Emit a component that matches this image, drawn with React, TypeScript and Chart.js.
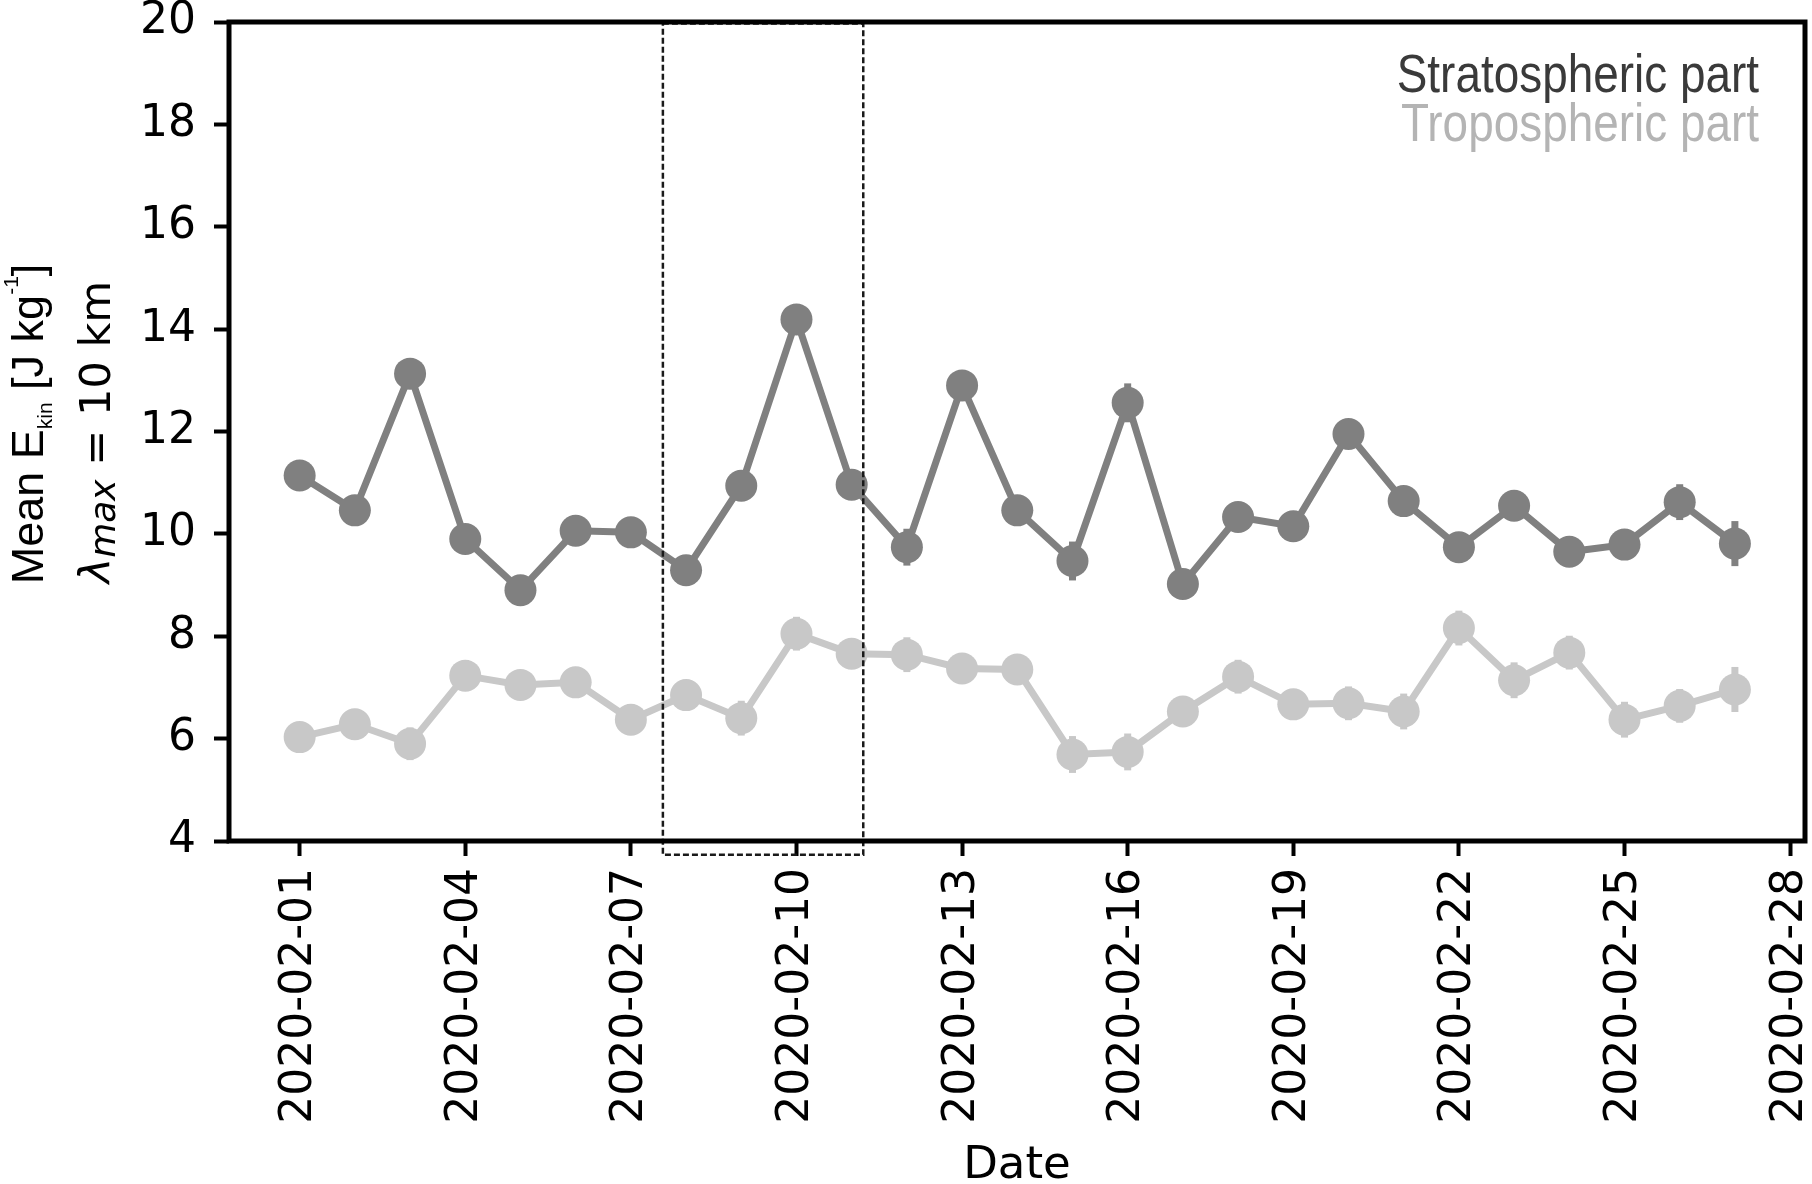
import React, { useEffect, useRef } from "react";
import { Chart, registerables } from "chart.js";

Chart.register(...registerables);

// ---------- data ----------
const dates = [
  "2020-02-01", "2020-02-02", "2020-02-03", "2020-02-04", "2020-02-05", "2020-02-06", "2020-02-07",
  "2020-02-08", "2020-02-09", "2020-02-10", "2020-02-11", "2020-02-12", "2020-02-13", "2020-02-14",
  "2020-02-15", "2020-02-16", "2020-02-17", "2020-02-18", "2020-02-19", "2020-02-20", "2020-02-21",
  "2020-02-22", "2020-02-23", "2020-02-24", "2020-02-25", "2020-02-26", "2020-02-27",
];
const stratValues = [
  11.14, 10.46, 13.13, 9.9, 8.9, 10.06, 10.03, 9.29, 10.94, 14.19, 10.96, 9.74, 12.9, 10.46,
  9.47, 12.56, 9.02, 10.33, 10.15, 11.95, 10.64, 9.74, 10.55, 9.65, 9.79, 10.62, 9.81,
];
const stratErrors = [
  0.2, 0.2, 0.2, 0.2, 0.2, 0.2, 0.2, 0.2, 0.2, 0.2, 0.2, 0.36, 0.2, 0.2,
  0.38, 0.38, 0.2, 0.2, 0.2, 0.2, 0.2, 0.25, 0.2, 0.2, 0.2, 0.35, 0.44,
];
const tropValues = [
  6.03, 6.28, 5.9, 7.23, 7.05, 7.1, 6.37, 6.85, 6.4, 8.05, 7.66, 7.64, 7.37, 7.35,
  5.69, 5.74, 6.53, 7.21, 6.67, 6.69, 6.53, 8.16, 7.14, 7.68, 6.37, 6.64, 6.96,
];
const tropErrors = [
  0.2, 0.3, 0.32, 0.3, 0.25, 0.3, 0.3, 0.3, 0.34, 0.33, 0.25, 0.34, 0.3, 0.3,
  0.36, 0.36, 0.3, 0.33, 0.3, 0.33, 0.35, 0.34, 0.35, 0.33, 0.35, 0.33, 0.44,
];
const tickDays = [0, 3, 6, 9, 12, 15, 18, 21, 24, 27];
const tickLabels = [
  "2020-02-01", "2020-02-04", "2020-02-07", "2020-02-10", "2020-02-13",
  "2020-02-16", "2020-02-19", "2020-02-22", "2020-02-25", "2020-02-28",
];
const yTicks = [4, 6, 8, 10, 12, 14, 16, 18, 20];
const xRange = [-1.28, 27.27];
const yRange = [4, 20];
const boxDays = [6.58, 10.21];
const boxValues = [3.73, 19.97];
const seriesNames = ["Stratospheric part", "Tropospheric part"];

// ---------- styles ----------
const STRAT_COLOR = "#808080";
const TROP_COLOR = "#c8c8c8";
const W = 1812;
const H = 1184;
const AREA_RIGHT = 1805;

function drawRich(
  ctx: CanvasRenderingContext2D,
  parts: { t: string; font: string; dy: number }[],
  cx: number,
  baseY: number
) {
  let total = 0;
  for (const p of parts) {
    ctx.font = p.font;
    total += ctx.measureText(p.t).width;
  }
  let x = cx - total / 2;
  for (const p of parts) {
    ctx.font = p.font;
    ctx.fillText(p.t, x, baseY + p.dy);
    x += ctx.measureText(p.t).width;
  }
}

const decorPlugin = {
  id: "decor",
  afterLayout(chart: any) {
    const xs = chart.scales.x;
    const a = chart.chartArea;
    if (Math.abs(a.right - AREA_RIGHT) > 0.5) {
      a.right = AREA_RIGHT;
      a.width = AREA_RIGHT - a.left;
      xs.right = AREA_RIGHT;
      xs.width = AREA_RIGHT - xs.left;
      if (xs.configure) xs.configure();
      const ys = chart.scales.y;
      if (ys && ys.configure) ys.configure();
    }
  },
  beforeDatasetsDraw(chart: any) {
    const ctx = chart.ctx as CanvasRenderingContext2D;
    const xs = chart.scales.x;
    const ys = chart.scales.y;
    const drawErr = (vals: number[], errs: number[], color: string) => {
      ctx.save();
      ctx.strokeStyle = color;
      ctx.lineWidth = 7;
      ctx.lineCap = "butt";
      vals.forEach((v, i) => {
        const px = xs.getPixelForValue(i);
        ctx.beginPath();
        ctx.moveTo(px, ys.getPixelForValue(v - errs[i]));
        ctx.lineTo(px, ys.getPixelForValue(v + errs[i]));
        ctx.stroke();
      });
      ctx.restore();
    };
    drawErr(tropValues, tropErrors, TROP_COLOR);
    drawErr(stratValues, stratErrors, STRAT_COLOR);
  },
  afterDatasetsDraw(chart: any) {
    const ctx = chart.ctx as CanvasRenderingContext2D;
    const xs = chart.scales.x;
    const ys = chart.scales.y;
    const a = chart.chartArea;

    // dashed highlight box
    ctx.save();
    ctx.strokeStyle = "#1a1a1a";
    ctx.lineWidth = 2.5;
    ctx.setLineDash([6, 3]);
    const x0 = xs.getPixelForValue(boxDays[0]);
    const x1 = xs.getPixelForValue(boxDays[1]);
    const y0 = ys.getPixelForValue(boxValues[0]);
    const y1 = ys.getPixelForValue(boxValues[1]);
    ctx.strokeRect(x0, y1, x1 - x0, y0 - y1);
    ctx.restore();

    // frame
    ctx.save();
    ctx.strokeStyle = "#000";
    ctx.lineWidth = 5;
    ctx.strokeRect(a.left, a.top, a.right - a.left, a.bottom - a.top);
    ctx.restore();

    // legend (text only, condensed)
    ctx.save();
    ctx.textAlign = "right";
    ctx.textBaseline = "alphabetic";
    const sx = 0.85;
    ctx.scale(sx, 1);
    ctx.font = '54px "Liberation Sans", Arial, sans-serif';
    ctx.fillStyle = "#3a3a3a";
    ctx.fillText(seriesNames[0], 1759 / sx, 92);
    ctx.fillStyle = "#b4b4b4";
    ctx.fillText(seriesNames[1], 1759 / sx, 141);
    ctx.restore();

    // x title
    ctx.save();
    ctx.fillStyle = "#000";
    ctx.textAlign = "center";
    ctx.textBaseline = "alphabetic";
    ctx.font = '45px "DejaVu Sans"';
    ctx.fillText("Date", (a.left + a.right) / 2, 1178);
    ctx.restore();

    // y title (two rotated lines)
    ctx.save();
    ctx.fillStyle = "#000";
    ctx.textAlign = "left";
    ctx.textBaseline = "alphabetic";
    ctx.rotate(-Math.PI / 2);
    const f1 = '45px "Liberation Sans", Arial, sans-serif';
    const f1s = '21px "Liberation Sans", Arial, sans-serif';
    drawRich(
      ctx,
      [
        { t: "Mean E", font: f1, dy: 0 },
        { t: "kin", font: f1s, dy: 9 },
        { t: " [J kg", font: f1, dy: 0 },
        { t: "-1", font: f1s, dy: -25 },
        { t: "]", font: f1, dy: 0 },
      ],
      -424,
      43
    );
    const f2 = '43px "DejaVu Sans"';
    const f2i = 'italic 43px "DejaVu Sans"';
    const f2s = 'italic 36px "DejaVu Sans"';
    drawRich(
      ctx,
      [
        { t: "\u03bb", font: f2i, dy: 0 },
        { t: "max", font: f2s, dy: 5 },
        { t: " = 10 km", font: f2, dy: 0 },
      ],
      -432,
      110
    );
    ctx.restore();
  },
};

export default function App() {
  const ref = useRef<HTMLCanvasElement | null>(null);

  useEffect(() => {
    if (!ref.current) return;
    const chart = new Chart(ref.current, {
      type: "line",
      data: {
        datasets: [
          {
            label: seriesNames[0],
            data: stratValues.map((v, i) => ({ x: i, y: v })),
            borderColor: STRAT_COLOR,
            backgroundColor: STRAT_COLOR,
            borderWidth: 7,
            pointRadius: 16,
            pointBorderWidth: 0,
            pointBackgroundColor: STRAT_COLOR,
            tension: 0,
          },
          {
            label: seriesNames[1],
            data: tropValues.map((v, i) => ({ x: i, y: v })),
            borderColor: TROP_COLOR,
            backgroundColor: TROP_COLOR,
            borderWidth: 7,
            pointRadius: 16,
            pointBorderWidth: 0,
            pointBackgroundColor: TROP_COLOR,
            tension: 0,
          },
        ],
      },
      options: {
        animation: false,
        responsive: false,
        devicePixelRatio: 1,
        layout: { padding: { top: 22, right: 7, left: 0, bottom: 0 } },
        plugins: {
          legend: { display: false },
          tooltip: { enabled: false },
        },
        scales: {
          x: {
            type: "linear",
            min: xRange[0],
            max: xRange[1],
            afterBuildTicks: (s: any) => {
              s.ticks = tickDays.map((v) => ({ value: v }));
            },
            afterFit: (s: any) => {
              s.height = H - 841;
              s.paddingLeft = 0;
              s.paddingRight = 0;
            },
            ticks: {
              autoSkip: false,
              minRotation: 90,
              maxRotation: 90,
              padding: 12,
              color: "#000",
              font: { family: "DejaVu Sans", size: 44 },
              callback: (v: any) => {
                const i = tickDays.indexOf(Number(v));
                return i >= 0 ? tickLabels[i] : "";
              },
            },
            grid: {
              display: true,
              drawOnChartArea: false,
              drawTicks: true,
              tickLength: 15,
              tickWidth: 4,
              tickColor: "#000",
            },
            border: { display: false },
          },
          y: {
            type: "linear",
            min: yRange[0],
            max: yRange[1],
            afterBuildTicks: (s: any) => {
              s.ticks = yTicks.map((v) => ({ value: v }));
            },
            afterFit: (s: any) => {
              s.width = 229;
              s.paddingTop = 0;
              s.paddingBottom = 0;
            },
            ticks: {
              padding: 18,
              color: "#000",
              font: { family: "DejaVu Sans", size: 44 },
              callback: (v: any) => String(v),
            },
            grid: {
              display: true,
              drawOnChartArea: false,
              drawTicks: true,
              tickLength: 15,
              tickWidth: 4,
              tickColor: "#000",
            },
            border: { display: false },
          },
        },
      },
      plugins: [decorPlugin],
    } as any);
    return () => chart.destroy();
  }, []);

  return (
    <div style={{ position: "absolute", left: 0, top: 0, width: W, height: H, background: "#fff" }}>
      <canvas ref={ref} width={W} height={H} style={{ width: W, height: H, display: "block" }} />
    </div>
  );
}
